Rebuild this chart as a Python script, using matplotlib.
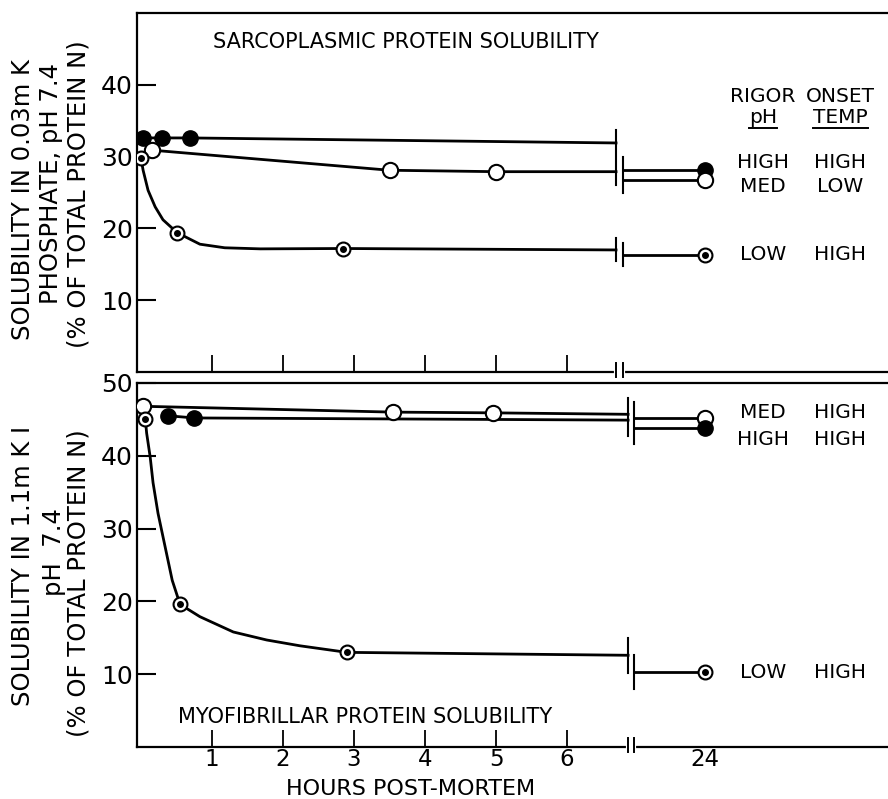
import matplotlib
matplotlib.use("Agg")
import matplotlib.pyplot as plt
from matplotlib.lines import Line2D

# -----------------------------
# DATA (hours post-mortem, % of total protein N)
# -----------------------------
X_24 = 7.94                      # where the 24 h point sits after the axis break
BREAK_TOP = (6.69, 6.79)
BREAK_BOT = (6.86, 6.95)
HOUR_TICKS = [1, 2, 3, 4, 5, 6]

# sarcoplasmic protein solubility (top panel)
sarc_high_x = [0.03, 0.30, 0.69]
sarc_high_y = [32.6, 32.6, 32.6]
sarc_high_end = 31.9
sarc_high_24 = 28.1

sarc_med_x = [0.15, 3.5, 5.0]
sarc_med_y = [30.9, 28.1, 27.9]
sarc_med_end = 27.9
sarc_med_24 = 26.8

sarc_low_x = [0.0, 0.51, 2.85]
sarc_low_y = [29.8, 19.4, 17.2]
sarc_low_end = 17.0
sarc_low_24 = 16.3
sarc_low_curve_x = [0.0, 0.03, 0.10, 0.20, 0.31, 0.51, 0.83, 1.18, 1.68, 2.85]
sarc_low_curve_y = [29.8, 28.1, 25.3, 23.0, 21.2, 19.4, 17.8, 17.3, 17.15, 17.2]

# myofibrillar protein solubility (bottom panel)
myo_med_x = [0.03, 3.55, 4.96]
myo_med_y = [46.8, 46.0, 45.9]
myo_med_end = 45.7
myo_med_24 = 45.2

myo_high_x = [0.38, 0.75]
myo_high_y = [45.5, 45.2]
myo_high_end = 44.9
myo_high_24 = 43.8

myo_low_x = [0.06, 0.55, 2.9]
myo_low_y = [45.1, 19.6, 13.0]
myo_low_end = 12.6
myo_low_24 = 10.3
myo_low_curve_x = [0.06, 0.08, 0.13, 0.17, 0.24, 0.34, 0.44, 0.55, 0.83, 1.3, 1.77, 2.24, 2.9]
myo_low_curve_y = [45.1, 43.1, 39.8, 36.3, 32.1, 27.5, 22.9, 19.6, 17.9, 15.8, 14.7, 13.9, 13.0]

# -----------------------------
# FIGURE
# -----------------------------
W, H = 888, 799
fig = plt.figure(figsize=(W / 100, H / 100), dpi=100)

def px(x, y):
    return x / W, 1 - y / H

LW = 2.0
MS = 11


def setup(ax, yticks):
    ax.set_xlim(-0.056, 10.52)
    ax.set_ylim(0, 50)
    for s in ["left", "top", "bottom"]:
        ax.spines[s].set_linewidth(1.6)
    ax.spines["right"].set_visible(False)
    ax.set_yticks(yticks)
    ax.tick_params(axis="y", direction="in", length=14, width=1.5,
                   labelsize=18, pad=3)
    ax.tick_params(axis="x", direction="in", length=12, width=1.3,
                   labelsize=16.5, pad=1)


def axis_break(ax, xs):
    tr = ax.get_xaxis_transform()
    ax.plot(xs, [0, 0], color="white", lw=3, transform=tr, clip_on=False, zorder=4)
    for x in xs:
        ax.plot([x, x], [-0.015, 0.025], color="black", lw=1.4,
                transform=tr, clip_on=False, zorder=5)


def series(ax, xs, ys, end, val24, brk, kind, curve=None):
    if curve is None:
        lx, ly = list(xs) + [brk[0]], list(ys) + [end]
    else:
        lx, ly = list(curve[0]) + [brk[0]], list(curve[1]) + [end]
    ax.plot(lx, ly, color="black", lw=LW, solid_joinstyle="round", zorder=2)
    ax.plot([brk[1], X_24], [val24, val24], color="black", lw=LW, zorder=2)
    px_ = list(xs) + [X_24]
    py_ = list(ys) + [val24]
    if kind == "filled":
        ax.plot(px_, py_, "o", ms=MS, mfc="black", mec="black", zorder=3)
    elif kind == "open":
        ax.plot(px_, py_, "o", ms=MS, mfc="white", mec="black", mew=1.5, zorder=3)
    else:
        ax.plot(px_, py_, "o", ms=MS - 1, mfc="white", mec="black", mew=1.5, zorder=3)
        ax.plot(px_, py_, "o", ms=4, mfc="black", mec="black", zorder=4)


def line_breaks(ax, brk, pre, post, pad):
    ax.plot([brk[0]] * 2, [min(pre) - pad, max(pre) + pad], color="black", lw=1.5, zorder=2)
    ax.plot([brk[1]] * 2, [min(post) - pad, max(post) + pad], color="black", lw=1.5, zorder=2)


# ---- top panel ----
ax1 = fig.add_axes([137 / W, 1 - 372 / H, (W - 137) / W, (372 - 13) / H])
setup(ax1, [10, 20, 30, 40])
ax1.set_xticks(HOUR_TICKS)
ax1.set_xticklabels([])
series(ax1, sarc_high_x, sarc_high_y, sarc_high_end, sarc_high_24, BREAK_TOP, "filled")
series(ax1, sarc_med_x, sarc_med_y, sarc_med_end, sarc_med_24, BREAK_TOP, "open")
series(ax1, sarc_low_x, sarc_low_y, sarc_low_end, sarc_low_24, BREAK_TOP, "dot",
       curve=(sarc_low_curve_x, sarc_low_curve_y))
line_breaks(ax1, BREAK_TOP, [sarc_high_end, sarc_med_end], [sarc_high_24, sarc_med_24], 1.8)
line_breaks(ax1, BREAK_TOP, [sarc_low_end], [sarc_low_24], 1.6)
axis_break(ax1, BREAK_TOP)
ax1.text(1.01, 46.0, "SARCOPLASMIC PROTEIN SOLUBILITY", fontsize=15,
         ha="left", va="center")

# ---- bottom panel ----
ax2 = fig.add_axes([137 / W, 1 - 747 / H, (W - 137) / W, (747 - 383) / H])
setup(ax2, [10, 20, 30, 40, 50])
ax2.set_xticks(HOUR_TICKS + [X_24])
ax2.set_xticklabels([str(h) for h in HOUR_TICKS] + ["24"])
ax2.xaxis.get_major_ticks()[-1].tick1line.set_visible(False)
series(ax2, myo_med_x, myo_med_y, myo_med_end, myo_med_24, BREAK_BOT, "open")
series(ax2, myo_high_x, myo_high_y, myo_high_end, myo_high_24, BREAK_BOT, "filled")
series(ax2, myo_low_x, myo_low_y, myo_low_end, myo_low_24, BREAK_BOT, "dot",
       curve=(myo_low_curve_x, myo_low_curve_y))
line_breaks(ax2, BREAK_BOT, [myo_med_end, myo_high_end], [myo_med_24, myo_high_24], 2.2)
line_breaks(ax2, BREAK_BOT, [myo_low_end], [myo_low_24], 2.4)
axis_break(ax2, BREAK_BOT)
ax2.text(0.52, 4.1, "MYOFIBRILLAR PROTEIN SOLUBILITY", fontsize=15,
         ha="left", va="center")

# ---- right-hand key ----
C1, C2 = 8.76, 9.85
KS = 14.5
ax1.text(C1, 38.4, "RIGOR", fontsize=KS, ha="center", va="center")
ax1.text(C2, 38.4, "ONSET", fontsize=KS, ha="center", va="center")
t_ph = ax1.text(C1, 35.4, "pH", fontsize=KS, ha="center", va="center")
t_tp = ax1.text(C2, 35.4, "TEMP", fontsize=KS, ha="center", va="center")
for ax, rows in [(ax1, [(29.2, "HIGH", "HIGH"), (25.8, "MED", "LOW"), (16.3, "LOW", "HIGH")]),
                 (ax2, [(46.0, "MED", "HIGH"), (42.2, "HIGH", "HIGH"), (10.3, "LOW", "HIGH")])]:
    for y, a, b in rows:
        ax.text(C1, y, a, fontsize=KS, ha="center", va="center")
        ax.text(C2, y, b, fontsize=KS, ha="center", va="center")

# ---- axis labels ----
YS = 17.5
for (x, y, s) in [(23, 200, "SOLUBILITY IN 0.03m K"),
                  (51, 184, "PHOSPHATE, pH 7.4"),
                  (79, 194, "(% OF TOTAL PROTEIN N)"),
                  (23, 566, "SOLUBILITY IN 1.1m K I"),
                  (54, 552, "pH  7.4"),
                  (79, 583, "(% OF TOTAL PROTEIN N)")]:
    fx, fy = px(x, y)
    fig.text(fx, fy, s, rotation=90, fontsize=YS, ha="center", va="center")

fx, fy = px(411, 799)
fig.text(fx, fy, "HOURS POST-MORTEM", fontsize=16, ha="center", va="bottom")

# underline the key column heads
fig.canvas.draw()
inv = fig.transFigure.inverted()
for t in [t_ph, t_tp]:
    bb = t.get_window_extent()
    (x0, y0), (x1, _) = inv.transform([(bb.x0, bb.y0 - 1), (bb.x1, bb.y0 - 1)])
    fig.add_artist(Line2D([x0, x1], [y0, y0], color="black", lw=1.4,
                          transform=fig.transFigure))

fig.savefig("out.png", dpi=100)
